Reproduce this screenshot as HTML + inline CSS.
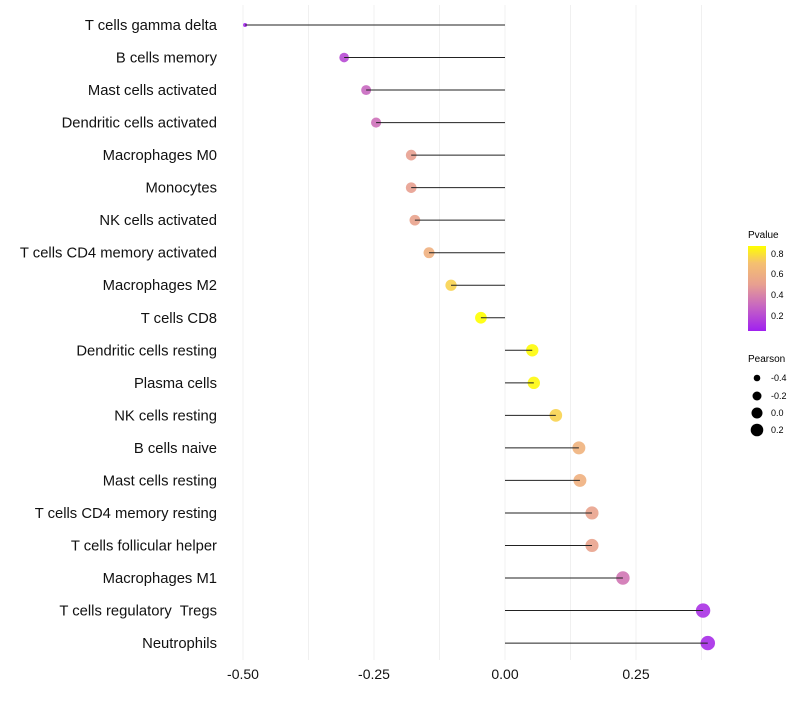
<!DOCTYPE html>
<html><head><meta charset="utf-8"><style>
body{margin:0;background:#fff;font-family:"Liberation Sans",sans-serif}
svg text{font-family:"Liberation Sans",sans-serif;white-space:pre}
</style></head><body>
<svg id="chart" width="800" height="700" xmlns="http://www.w3.org/2000/svg">
<defs><linearGradient id="pg" x1="0" y1="1" x2="0" y2="0">
<stop offset="0" stop-color="#a020f0"/><stop offset="0.3" stop-color="#c868c0"/><stop offset="0.55" stop-color="#e8a090"/><stop offset="0.8" stop-color="#f5c070"/><stop offset="1" stop-color="#ffff00"/></linearGradient></defs>
<g id="grid"></g><g id="marks"></g><g id="labels"></g><g id="xticks"></g>
<g>
<text x="748" y="238" font-size="10">Pvalue</text>
<rect x="748" y="246" width="18" height="85" fill="url(#pg)"/>
<text x="771" y="257" font-size="9">0.8</text><text x="771" y="277" font-size="9">0.6</text>
<text x="771" y="298" font-size="9">0.4</text><text x="771" y="319" font-size="9">0.2</text>
</g>
<g>
<text x="748" y="362" font-size="10">Pearson</text>
<circle cx="757" cy="378" r="3.3"/><text x="771" y="381" font-size="9">-0.4</text>
<circle cx="757" cy="396" r="4.5"/><text x="771" y="399" font-size="9">-0.2</text>
<circle cx="757" cy="413" r="5.5"/><text x="771" y="416" font-size="9">0.0</text>
<circle cx="757" cy="430" r="6.3"/><text x="771" y="433" font-size="9">0.2</text>
</g>
</svg>
<script>
const categories=["T cells gamma delta","B cells memory","Mast cells activated","Dendritic cells activated","Macrophages M0","Monocytes","NK cells activated","T cells CD4 memory activated","Macrophages M2","T cells CD8","Dendritic cells resting","Plasma cells","NK cells resting","B cells naive","Mast cells resting","T cells CD4 memory resting","T cells follicular helper","Macrophages M1","T cells regulatory  Tregs","Neutrophils"];
const pearson=[-0.496,-0.307,-0.265,-0.246,-0.179,-0.179,-0.172,-0.145,-0.103,-0.046,0.052,0.055,0.097,0.141,0.143,0.166,0.166,0.225,0.378,0.387];
const pvalue=[0.08,0.2,0.3,0.33,0.5,0.5,0.52,0.6,0.75,0.87,0.86,0.85,0.75,0.62,0.6,0.52,0.52,0.35,0.12,0.1];
const xticks=[-0.5,-0.25,0,0.25];
const xtickLabels=["-0.50","-0.25","0.00","0.25"];
const X=v=>505+v*524;
const Y=i=>25+i*32.53;
const ns="http://www.w3.org/2000/svg";
function mk(p,t,a){const e=document.createElementNS(ns,t);for(const k in a)e.setAttribute(k,a[k]);p.appendChild(e);return e;}
const stops=[[0.06,[160,32,240]],[0.3,[200,104,192]],[0.5,[232,160,144]],[0.7,[245,192,112]],[0.87,[255,255,0]]];
function col(p){if(p<=stops[0][0])return "rgb("+stops[0][1]+")";for(let i=1;i<stops.length;i++){if(p<=stops[i][0]){const a=stops[i-1],b=stops[i],t=(p-a[0])/(b[0]-a[0]);return "rgb("+a[1].map((c,j)=>Math.round(c+(b[1][j]-c)*t))+")";}}return "rgb(255,255,0)";}
const R=v=>v<-0.45?2:Math.sqrt(36+42*v);
const grid=document.getElementById('grid');
for(let g=-0.5;g<=0.376;g+=0.125){const l=mk(grid,'line',{x1:X(g),x2:X(g),y1:5,y2:660,stroke:'#f0f0f0','stroke-width':1});

}
const marks=document.getElementById('marks'),labels=document.getElementById('labels');
categories.forEach((c,i)=>{
const y=Y(i);
const d=mk(marks,'circle',{cx:X(pearson[i]),cy:y,r:R(pearson[i]),fill:col(pvalue[i]),'fill-opacity':0.9});


const s=mk(marks,'line',{x1:X(0),x2:X(pearson[i]),y1:y,y2:y,stroke:'#222','stroke-width':1});


const t=mk(labels,'text',{x:217,y:y+5,'text-anchor':'end','font-size':14.8,fill:'#111'});t.textContent=c;


});
const xt=document.getElementById('xticks');
xticks.forEach((v,i)=>{const t=mk(xt,'text',{x:X(v),y:679,'text-anchor':'middle','font-size':14,fill:'#111'});t.textContent=xtickLabels[i];

});
</script>
</body></html>
